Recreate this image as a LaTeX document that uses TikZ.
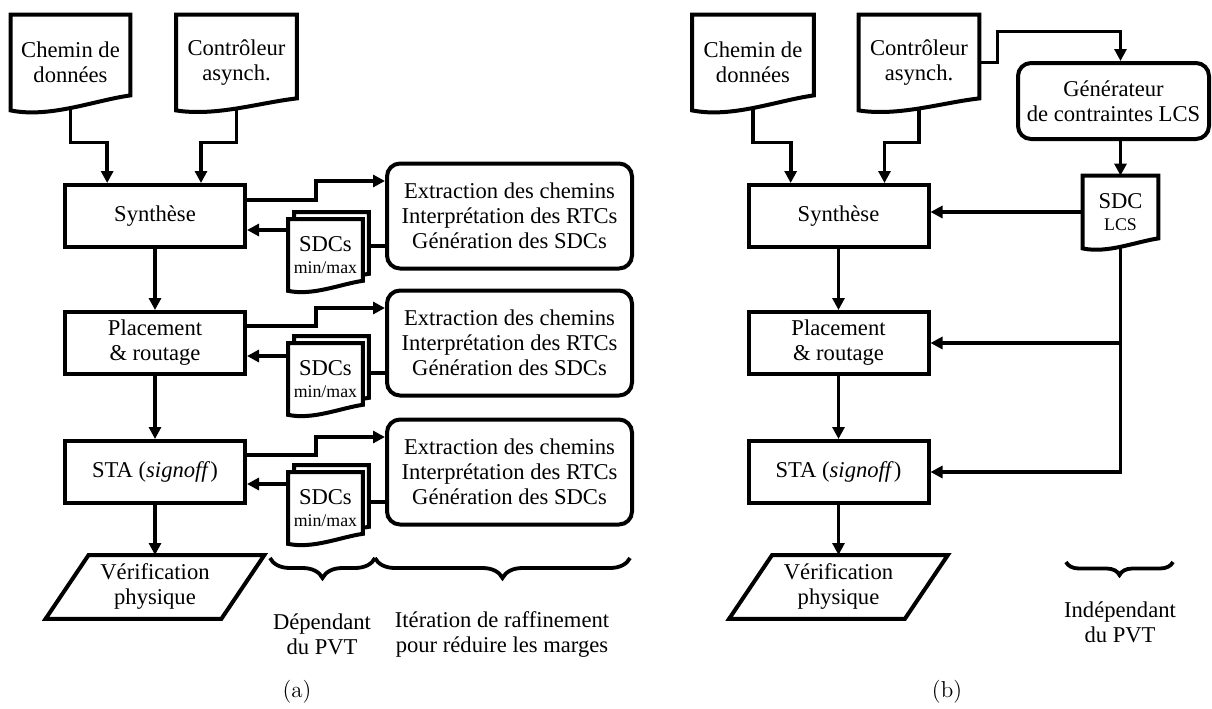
\documentclass[tikz,border=0pt]{standalone}
\usepackage{fontspec}
\newfontfamily\timesfont{Liberation Serif}
\usepackage{tikz}
\usetikzlibrary{arrows.meta, positioning, calc, backgrounds, decorations.pathreplacing}

\newcommand{\diagfont}{\timesfont\fontsize{11.3}{12.5}\selectfont}
\newcommand{\smallfont}{\timesfont\fontsize{8.9}{10}\selectfont}

\tikzstyle{arrow} = [line width=1.9pt, -{Triangle[length=6pt,width=6pt]}]
\tikzstyle{link} = [line width=1.9pt]
\tikzstyle{process} = [rectangle, draw, line width=2pt, minimum width=90pt, minimum height=31pt]
\tikzstyle{task} = [rectangle, draw, rounded corners=6.5pt, line width=2pt, minimum width=122.5pt, minimum height=52.5pt, inner sep=2pt]
\tikzstyle{docnode} = [rectangle, minimum width=60pt, minimum height=47.5pt, inner sep=2pt]
\tikzstyle{sdcnode} = [rectangle, minimum width=37pt, minimum height=35.5pt, inner sep=0pt]
\tikzstyle{ionode} = [rectangle, minimum width=87.5pt, minimum height=31.5pt, inner sep=0pt]
\tikzstyle{pvtbrace} = [line width=1.9pt, decorate, decoration={brace, mirror, amplitude=10pt}]

% document outline: wavy bottom, right corner raised by #2
\newcommand{\docoutline}[2]{%
  \draw[line width=2pt, fill=white] (#1.south west) -- (#1.north west) -- (#1.north east) -- ([yshift=#2]#1.south east)
    .. controls ($(#1.south west)!0.7!(#1.south east)+(0,0.67*#2)$) and ($(#1.south west)!0.33!(#1.south east)+(0,-0.53*#2)$) .. (#1.south west) -- cycle;}
% slanted box for the output
\newcommand{\iooutline}[1]{%
  \draw[line width=2pt] ([xshift=10.75pt]#1.north west) -- ([xshift=10.75pt]#1.north east) -- ([xshift=-10.75pt]#1.south east) -- ([xshift=-10.75pt]#1.south west) -- cycle;}

\begin{document}
\begin{tikzpicture}[x=0.5pt, y=-0.5pt, every node/.style={font=\diagfont, align=center}]
\useasboundingbox (0,0) rectangle (1212,708);

% (a) flot avec SDCs min/max
\node (chemin) [docnode, minimum width=59.5pt] at (70.5,62.5) {Chemin de\\données};
\node (ctrl) [docnode] at (236.5,62.5) {Contrôleur\\asynch.};
\node (synth) [process] at (155,216) {Synthèse};
\node (place) [process, below=30.5pt of synth] {Placement\\\& routage};
\node (sta) [process, below=31.5pt of place] {STA (\textit{signoff})};
\node (verif) [ionode, below=25pt of sta] {Vérification\\physique};

\node (sdc1) [sdcnode, below right=-15pt and 20.5pt of synth] {SDCs\\[-1.5pt]{\smallfont min/max}};
\node (sdc1b) [sdcnode] at ([xshift=3pt,yshift=3.5pt]sdc1.center) {};
\node (sdc2) [sdcnode, below right=-16.5pt and 20.5pt of place] {SDCs\\[-1.5pt]{\smallfont min/max}};
\node (sdc2b) [sdcnode] at ([xshift=3pt,yshift=3.5pt]sdc2.center) {};
\node (sdc3) [sdcnode, below right=-16.5pt and 20.5pt of sta] {SDCs\\[-1.5pt]{\smallfont min/max}};
\node (sdc3b) [sdcnode] at ([xshift=3pt,yshift=3.5pt]sdc3.center) {};

\node (rtc1) [task, right=69pt of synth] {Extraction des chemins\\Interprétation des RTCs\\Génération des SDCs};
\node (rtc2) [task, right=69pt of place] {Extraction des chemins\\Interprétation des RTCs\\Génération des SDCs};
\node (rtc3) [task, right=69pt of sta] {Extraction des chemins\\Interprétation des RTCs\\Génération des SDCs};

\draw [arrow] ([yshift=1.5pt]chemin.south) -- ++(0,-17.5pt) -| ($(synth.north west)!0.24!(synth.north east)$);
\draw [arrow] ([yshift=1.5pt]ctrl.south) -- ++(0,-17.5pt) -| ($(synth.north west)!0.75!(synth.north east)$);
\draw [arrow] (synth) -- (place);
\draw [arrow] (place) -- (sta);
\draw [arrow] (sta) -- (verif);

\draw [arrow] ([yshift=8pt]synth.east) -- ++(34.5pt,0) |- ([yshift=17.5pt]rtc1.west);
\draw [link] ([yshift=-15pt]rtc1.west) -- ++(-8.5pt,0);
\draw [arrow] ([yshift=-7pt]synth.east) ++(20.5pt,0) -- ++(-20.5pt,0);
\draw [arrow] ([yshift=8.5pt]place.east) -- ++(34.5pt,0) |- ([yshift=17.5pt]rtc2.west);
\draw [link] ([yshift=-15pt]rtc2.west) -- ++(-8.5pt,0);
\draw [arrow] ([yshift=-6.5pt]place.east) ++(20.5pt,0) -- ++(-20.5pt,0);
\draw [arrow] ([yshift=8.5pt]sta.east) -- ++(34.5pt,0) |- ([yshift=17.5pt]rtc3.west);
\draw [link] ([yshift=-15pt]rtc3.west) -- ++(-8.5pt,0);
\draw [arrow] ([yshift=-6pt]sta.east) ++(20.5pt,0) -- ++(-20.5pt,0);

\coordinate (br1) at (270,558);
\coordinate (br2) at (375,558);
\coordinate (br3) at (630,558);
\draw [pvtbrace] (br1) -- (br2);
\draw [pvtbrace] (br2) -- (br3);
\node (dep) at (322,634) {Dépendant\\du PVT};
\node (iter) at (502,634) {Itération de raffinement\\pour réduire les marges};
\node (capa) [font=\rmfamily\fontsize{11.5}{13}\selectfont] at (297,692) {(a)};

% (b) flot avec SDC LCS
\node (chemin2) [docnode, minimum width=60.5pt] at (753,62.5) {Chemin de\\données};
\node (ctrl2) [docnode] at (919,62.5) {Contrôleur\\asynch.};
\node (synth2) [process] at (838.5,216) {Synthèse};
\node (place2) [process, below=30.5pt of synth2] {Placement\\\& routage};
\node (sta2) [process, below=31.5pt of place2] {STA (\textit{signoff})};
\node (verif2) [ionode, below=25pt of sta2] {Vérification\\physique};
\node (lcsgen) [task, minimum width=95.5pt, minimum height=38pt] at (1113.5,101) {Générateur\\de contraintes LCS};
\node (sdclcs) [sdcnode, minimum width=37.5pt, minimum height=36pt] at (1120.5,212) {SDC\\[-1.5pt]{\smallfont LCS}};

\draw [arrow] ([yshift=1.5pt]chemin2.south) -- ++(0,-17.5pt) -| ($(synth2.north west)!0.24!(synth2.north east)$);
\draw [arrow] ([yshift=1.5pt]ctrl2.south) -- ++(0,-17.5pt) -| ($(synth2.north west)!0.75!(synth2.north east)$);
\draw [arrow] (synth2) -- (place2);
\draw [arrow] (place2) -- (sta2);
\draw [arrow] (sta2) -- (verif2);
\draw [arrow] (ctrl2.east) -- ++(9pt,0) -- ++(0,15.5pt) -| (lcsgen.north -| sdclcs.north);
\draw [arrow] (lcsgen.south -| sdclcs.north) -- (sdclcs.north);
\draw [arrow] (sdclcs.west) -- (sdclcs.west -| synth2.east);
\draw [arrow] ([yshift=1pt]sdclcs.south) |- (sta2.east);
\draw [arrow] (sdclcs.south |- place2.east) -- (place2.east);

\coordinate (br4) at (1066,562);
\coordinate (br5) at (1173,562);
\draw [pvtbrace, decoration={brace, mirror, amplitude=6.5pt}] (br4) -- (br5);
\node (indep) at (1120,622) {Indépendant\\du PVT};
\node (capb) [font=\rmfamily\fontsize{11.5}{13}\selectfont] at (947,692) {(b)};

% formes des documents
\begin{scope}[on background layer]
\docoutline{chemin}{7.5pt}
\docoutline{ctrl}{6pt}
\docoutline{sdc1b}{5pt}
\docoutline{sdc1}{5pt}
\docoutline{sdc2b}{5pt}
\docoutline{sdc2}{5pt}
\docoutline{sdc3b}{5pt}
\docoutline{sdc3}{5pt}
\docoutline{chemin2}{7.5pt}
\docoutline{ctrl2}{6pt}
\docoutline{sdclcs}{5pt}
\end{scope}
\iooutline{verif}
\iooutline{verif2}
\end{tikzpicture}
\end{document}
